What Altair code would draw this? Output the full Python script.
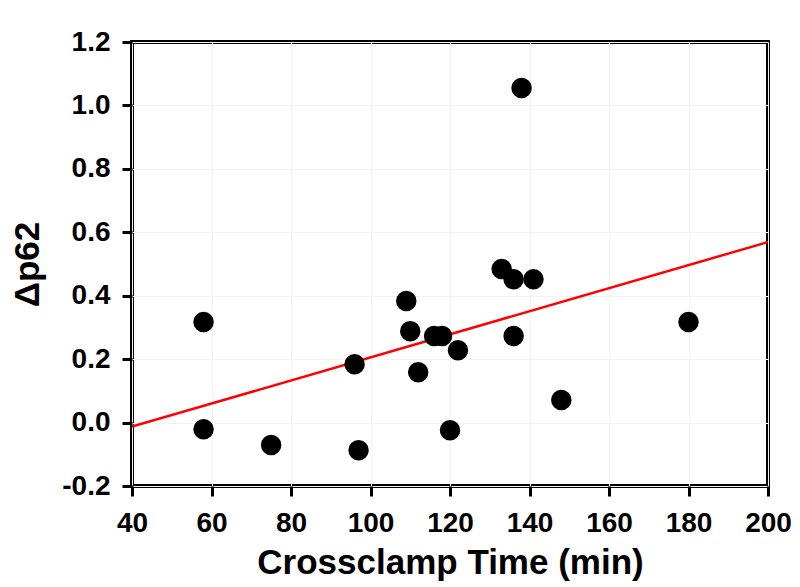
import altair as alt
import pandas as pd

crossclamp = [58, 58, 75, 96, 97, 109, 110, 112, 116, 118, 120, 122, 133, 136, 136, 138, 141, 148, 180]
dp62 = [0.317, -0.021, -0.071, 0.184, -0.087, 0.383, 0.288, 0.159, 0.273, 0.273, -0.024, 0.228,
        0.484, 0.452, 0.273, 1.055, 0.452, 0.071, 0.317]

x_ticks = [40, 60, 80, 100, 120, 140, 160, 180, 200]
y_ticks = [-0.2, 0.0, 0.2, 0.4, 0.6, 0.8, 1.0, 1.2]

df = pd.DataFrame({"x": crossclamp, "y": dp62})

xscale = alt.Scale(domain=[40, 200], nice=False, zero=False)
yscale = alt.Scale(domain=[-0.2, 1.2], nice=False, zero=False)

xaxis = alt.Axis(title="Crossclamp Time (min)", values=x_ticks, format="d", labelFlush=False,
                 labelPadding=13, titlePadding=8)
yaxis = alt.Axis(title="Δp62", values=y_ticks, labelFlush=False,
                 labelExpr="datum.value < -0.001 ? '-' + format(-datum.value, '.1f') : format(abs(datum.value), '.1f')",
                 labelPadding=12, titlePadding=16)

base = alt.Chart(df).encode(
    x=alt.X("x:Q", scale=xscale, axis=xaxis),
    y=alt.Y("y:Q", scale=yscale, axis=yaxis),
)

points = base.mark_circle(size=420, color="black", opacity=1)

line = base.transform_regression("x", "y", extent=[40, 200]).mark_line(
    color="#ff0000", strokeWidth=2.5, clip=True
)

chart = alt.layer(line, points).properties(
    width=636, height=444,
    autosize=alt.AutoSizeParams(type="none"),
    padding={"left": 124, "top": 34, "right": 24, "bottom": 100},
    background="white",
).configure_view(
    stroke="black", strokeWidth=4
).configure_axis(
    labelFont="Liberation Sans", labelFontWeight="bold", labelFontSize=28, labelColor="black",
    titleFont="Liberation Sans", titleFontWeight="bold", titleFontSize=35, titleColor="black",
    tickSize=10, tickWidth=3, tickColor="black", domain=False,
    grid=True, gridColor="#f3f3f3", gridWidth=1,
)

chart.save("out.html", embed_options={"renderer": "svg", "actions": False})
